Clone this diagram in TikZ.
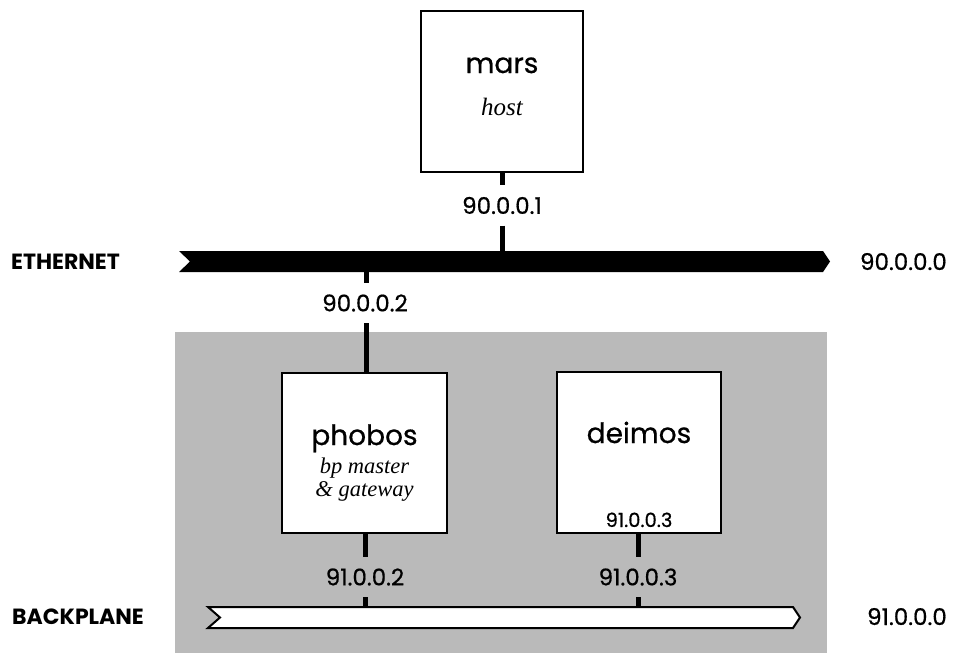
\documentclass[tikz,border=0pt]{standalone}
\usepackage{fontspec}
\newfontfamily\geo[FakeBold=0.6]{Poppins}
\newfontfamily\geoplain{Poppins}
\newfontfamily\roleface{Liberation Serif}
\begin{document}
\begin{tikzpicture}[x=1pt,y=-1pt,
  hostbox/.style={draw=black,line width=2.2pt,fill=white,inner sep=0pt},
  stub/.style={line width=5pt},
  hosttitle/.style={font=\geo\fontsize{28}{30}\selectfont,anchor=base,inner sep=0pt},
  hostrole/.style={font=\roleface\itshape\fontsize{22.5}{24}\selectfont,anchor=base,inner sep=0pt},
  iplabel/.style={font=\geo\fontsize{23}{25}\selectfont,minimum height=40pt,inner sep=0pt},
  netname/.style={font=\geoplain\bfseries\fontsize{22}{24}\selectfont,anchor=base west,inner sep=0pt},
  netaddr/.style={font=\geo\fontsize{23}{25}\selectfont,anchor=base east,inner sep=0pt}]
\useasboundingbox (0,0) rectangle (953,653);

% backplane cage
\fill[black!27] (175,332) rectangle (827,653);

% ethernet cable
\fill[black] (179,251) -- (823,251) -- (830,261.5) -- (823,272) -- (179,272)
  -- (190,261.5) -- cycle;
\coordinate (ethA) at (502,251);
\coordinate (ethB) at (366,272);

% backplane bus
\draw[line width=2pt,fill=white,line join=miter] (208,607) -- (793,607)
  -- (800,617.5) -- (793,628) -- (208,628) -- (220,617.5) -- cycle;
\coordinate (bpA) at (365,606);
\coordinate (bpB) at (638,606);

% network names and addresses
\node[netname] (ethname) at (11,269) {ETHERNET};
\node[netaddr] (ethaddr) at (947,270) {90.0.0.0};
\node[netname] (bpname) at (12,624) {BACKPLANE};
\node[netaddr] (bpaddr) at (947,625) {91.0.0.0};

% hosts
\node[hostbox,minimum width=162pt,minimum height=161pt] (mars) at (502,91.5) {};
\node[hosttitle] (marsname) at (502,73) {mars};
\node[hostrole,font=\roleface\itshape\fontsize{25}{27}\selectfont] (marsrole) at (502,115) {host};

\node[hostbox,minimum width=165pt,minimum height=160pt] (phobos) at (364.5,453) {};
\node[hosttitle] (phobosname) at (364.5,445) {phobos};
\node[hostrole] (phobosrole1) at (364.5,473) {bp master};
\node[hostrole] (phobosrole2) at (364.5,496) {\& gateway};

\node[hostbox,minimum width=164pt,minimum height=161pt] (deimos) at (639,452.5) {};
\node[hosttitle] (deimosname) at (639,443) {deimos};
\node[font=\geo\fontsize{19.5}{21}\selectfont,anchor=base,inner sep=0pt] (deimosip) at (639,527) {91.0.0.3};

% interface addresses and taps
\node[iplabel] (ip1) at (502,205.5) {90.0.0.1};
\node[iplabel] (ip2) at (365,303) {90.0.0.2};
\node[iplabel] (ip3) at (365,577) {91.0.0.2};
\node[iplabel] (ip4) at (638,577) {91.0.0.3};

\draw[stub] (mars.south) -- (ip1.north -| mars.south);
\draw[stub] (ip1.south -| mars.south) -- (ethA);
\draw[stub] (ethB) -- (ethB |- ip2.north);
\draw[stub] (ethB |- ip2.south) -- (ethB |- phobos.north);
\draw[stub] (phobos.south -| bpA) -- (bpA |- ip3.north);
\draw[stub] (bpA |- ip3.south) -- (bpA);
\draw[stub] (deimos.south -| bpB) -- (bpB |- ip4.north);
\draw[stub] (bpB |- ip4.south) -- (bpB);
\end{tikzpicture}
\end{document}
